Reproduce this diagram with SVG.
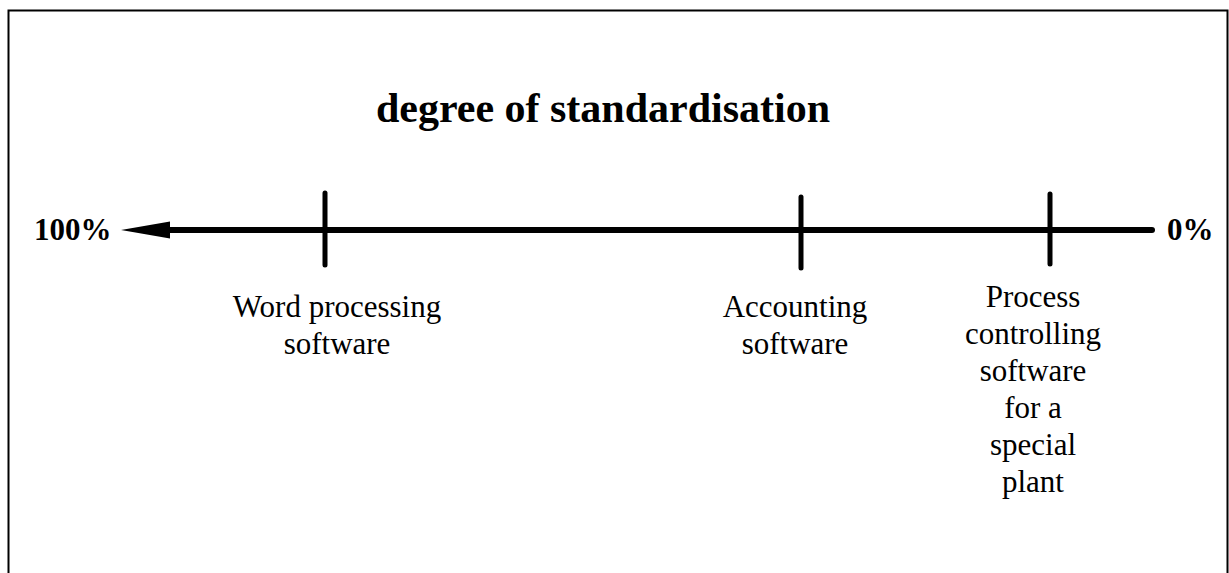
<svg xmlns="http://www.w3.org/2000/svg" width="1229" height="573" viewBox="0 0 1229 573">
<style>
.title{font-family:'Liberation Serif','DejaVu Serif',serif;font-weight:bold;font-size:42px;fill:#000}
.pct{font-family:'Liberation Serif','DejaVu Serif',serif;font-weight:bold;font-size:31px;fill:#000}
.lbl{font-family:'Liberation Serif','DejaVu Serif',serif;font-weight:normal;font-size:31px;fill:#000;text-anchor:middle}
.axis{stroke:#000;stroke-width:6;stroke-linecap:round;fill:none}
.tick{stroke:#000;stroke-width:5;stroke-linecap:round;fill:none}
</style>
<rect x="0" y="0" width="1229" height="573" fill="#fff"/>
<rect x="8.5" y="10.5" width="1219" height="620" fill="none" stroke="#000" stroke-width="2"/>
<text class="title" x="603" y="122" text-anchor="middle">degree of standardisation</text>
<g id="connectors">
<line class="axis" x1="165" y1="230" x2="1152" y2="230"/>
<polygon points="121,230 170,221.5 170,238.5" fill="#000"/>
</g>
<g id="label-100"><text class="pct" x="34" y="240">100%</text></g>
<g id="label-0"><text class="pct" x="1167" y="240">0%</text></g>
<g id="node-word">
<line class="tick" x1="325" y1="193" x2="325" y2="265"/>
<text class="lbl" x="337" y="317">Word processing</text>
<text class="lbl" x="337" y="354">software</text>
</g>
<g id="node-accounting">
<line class="tick" x1="801" y1="197" x2="801" y2="268"/>
<text class="lbl" x="795" y="317">Accounting</text>
<text class="lbl" x="795" y="354">software</text>
</g>
<g id="node-process">
<line class="tick" x1="1050" y1="194" x2="1050" y2="264"/>
<text class="lbl" x="1033" y="307">Process</text>
<text class="lbl" x="1033" y="344">controlling</text>
<text class="lbl" x="1033" y="381">software</text>
<text class="lbl" x="1033" y="418">for a</text>
<text class="lbl" x="1033" y="455">special</text>
<text class="lbl" x="1033" y="492">plant</text>
</g>
</svg>
